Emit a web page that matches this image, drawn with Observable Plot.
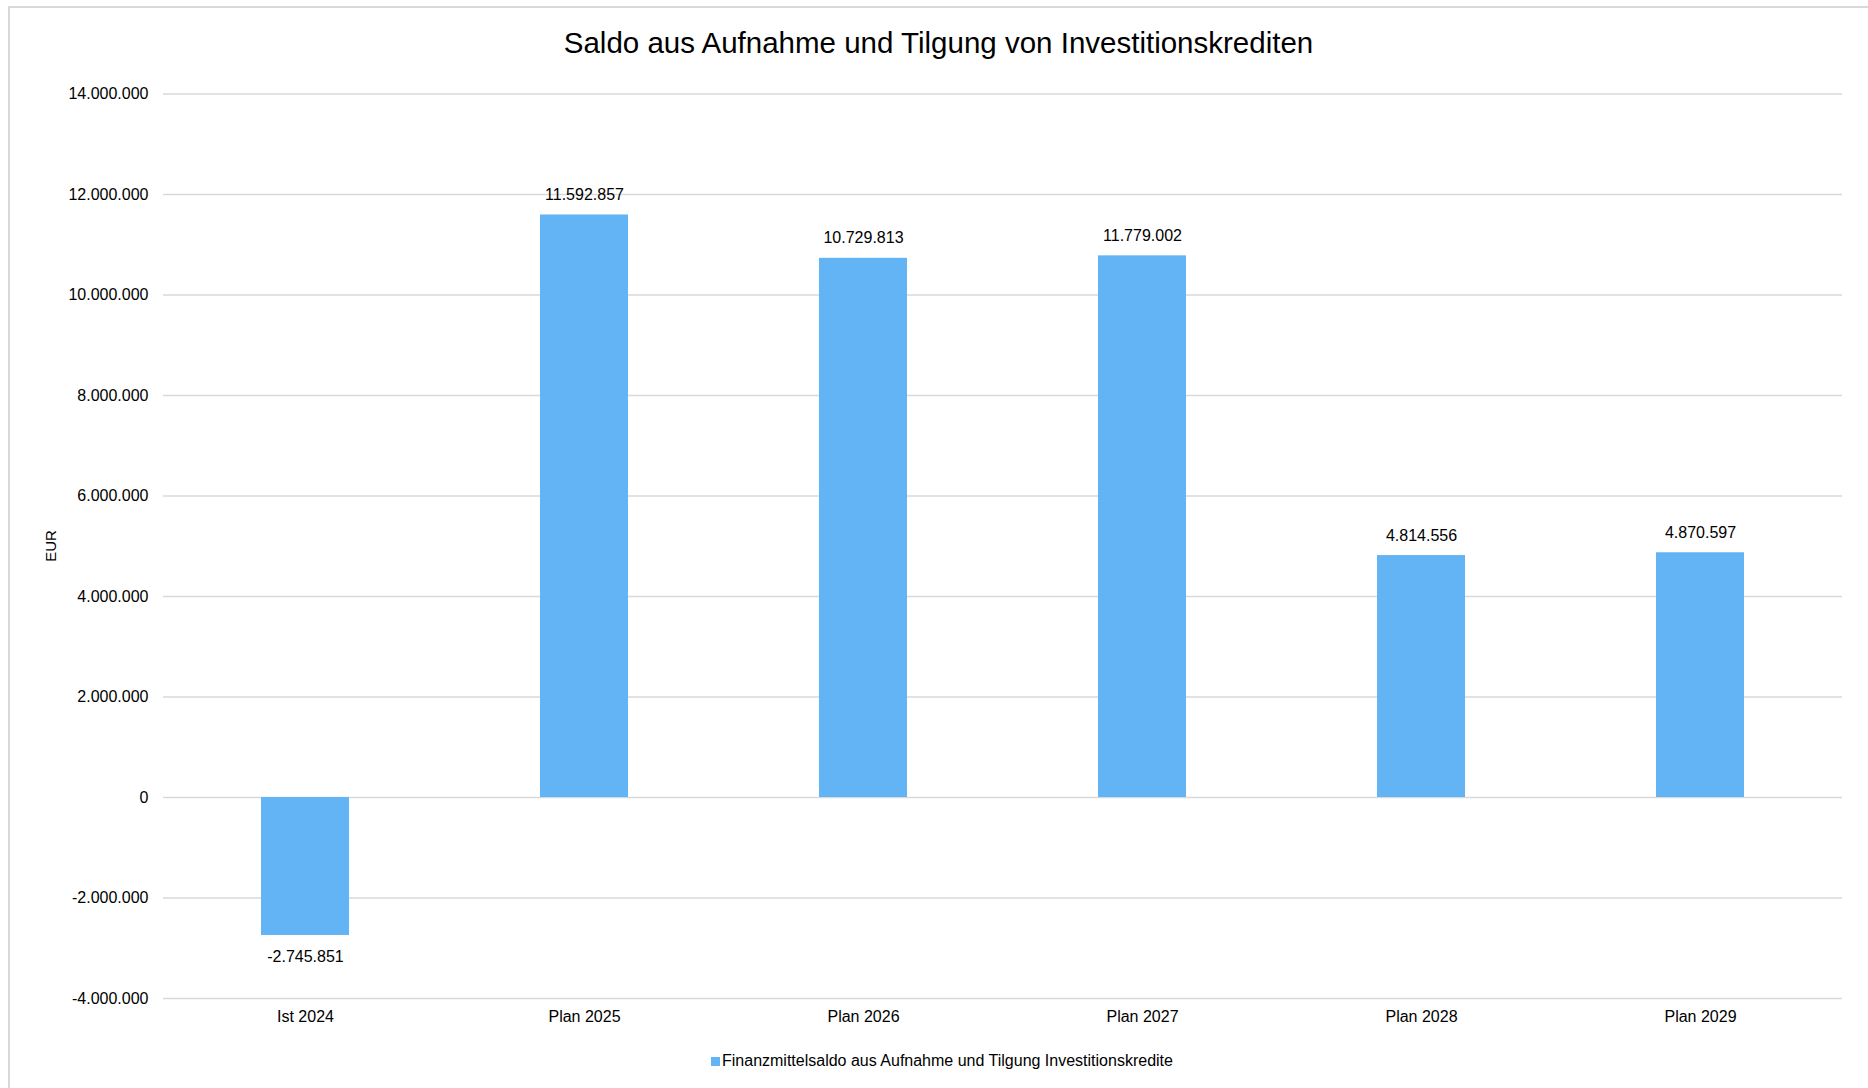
<!DOCTYPE html>
<html>
<head>
<meta charset="utf-8">
<script src="https://cdn.jsdelivr.net/npm/d3@7"></script>
<script src="https://cdn.jsdelivr.net/npm/@observablehq/plot@0.6"></script>
<style>
  html, body { margin: 0; padding: 0; background: #fff; overflow: hidden; }
  body { width: 1868px; height: 1088px; position: relative; font-family: "Liberation Sans", Arial, sans-serif; color: #000; }
  #frame { position: absolute; left: 8px; top: 6px; width: 2000px; height: 2000px; border-left: 2px solid #d9d9d9; border-top: 2px solid #d9d9d9; }
  #title { position: absolute; left: 9px; width: 1859px; top: 28px; text-align: center; font-size: 29.5px; line-height: 29.5px; white-space: nowrap; }
  #ylabel { position: absolute; left: 50px; top: 546px; font-size: 15px; line-height: 15px; transform: translate(-50%, -50%) rotate(-90deg); white-space: nowrap; }
  #chart { position: absolute; left: 0; top: 70px; }
  #legend-swatch { position: absolute; left: 711px; top: 1057px; width: 9px; height: 9px; background: #63b4f5; }
  #legend-text { position: absolute; left: 722px; top: 1053px; font-size: 16px; line-height: 16px; white-space: nowrap; }
</style>
</head>
<body>
<div id="frame"></div>
<div id="title">Saldo aus Aufnahme und Tilgung von Investitionskrediten</div>
<div id="ylabel">EUR</div>
<div id="chart"></div>
<div id="legend-swatch"></div>
<div id="legend-text">Finanzmittelsaldo aus Aufnahme und Tilgung Investitionskredite</div>
<script>
const categories = ["Ist 2024", "Plan 2025", "Plan 2026", "Plan 2027", "Plan 2028", "Plan 2029"];
const values = [-2745851, 11592857, 10729813, 10779002, 4814556, 4870597];
const valueLabels = ["-2.745.851", "11.592.857", "10.729.813", "11.779.002", "4.814.556", "4.870.597"];
const yTicks = [-4000000, -2000000, 0, 2000000, 4000000, 6000000, 8000000, 10000000, 12000000, 14000000];
const seriesName = "Finanzmittelsaldo aus Aufnahme und Tilgung Investitionskredite";

const data = categories.map((c, i) => ({cat: c, value: values[i], label: valueLabels[i]}));
const de = d3.formatLocale({decimal: ",", thousands: ".", grouping: [3], currency: ["", " €"], minus: "-"});
const fmt = de.format(",d");

const plot = Plot.plot({
  width: 1868,
  height: 970,
  marginLeft: 163,
  marginRight: 26,
  marginTop: 23.5,
  marginBottom: 42,
  style: {fontFamily: '"Liberation Sans", Arial, sans-serif', fontSize: "16px", color: "#000", background: "transparent", overflow: "visible"},
  x: {domain: categories, paddingInner: 0.686, paddingOuter: 0.343, label: null},
  y: {domain: [-4000000, 14000000], label: null},
  marks: [
    Plot.gridY(yTicks, {stroke: "#d9d9d9", strokeOpacity: 1, strokeWidth: 1.5}),
    Plot.barY(data, {x: "cat", y: "value", fill: "#63b4f5", title: d => seriesName}),
    Plot.text(data.filter(d => d.value >= 0), {x: "cat", y: "value", text: "label", dy: -20, fontSize: 16}),
    Plot.text(data.filter(d => d.value < 0), {x: "cat", y: "value", text: "label", dy: 21, fontSize: 16}),
    Plot.axisY(yTicks, {tickSize: 0, tickPadding: 15, tickFormat: fmt, fontSize: 16, label: null}),
    Plot.axisX({tickSize: 0, tickPadding: 12, fontSize: 16, label: null})
  ]
});
document.getElementById("chart").appendChild(plot);
</script>
</body>
</html>
